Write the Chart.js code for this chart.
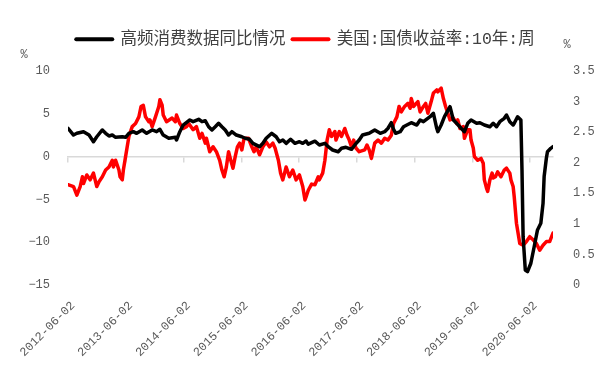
<!DOCTYPE html>
<html><head><meta charset="utf-8">
<script src="https://cdn.jsdelivr.net/npm/chart.js@4/dist/chart.umd.min.js"></script>
<style>html,body{margin:0;padding:0;background:#fff}</style>
</head><body>
<canvas id="c" width="611" height="383"></canvas>
<script>
// ---- data (x = weeks since 2012-06-02) ----
const seriesNames = ['高频消费数据同比情况', '美国:国债收益率:10年:周'];
const dateLabels = ['2012-06-02','2013-06-02','2014-06-02','2015-06-02','2016-06-02','2017-06-02','2018-06-02','2019-06-02','2020-06-02'];
const leftAxisRange = [-15, 10];
const rightAxisRange = [0, 3.5];

const blackWeeks = [0,5,8,14,19,23,26,31,34,37,40,43,49,52,55,59,62,67,71,76,80,83,86,91,97,98,101,104,106,110,113,118,121,124,127,130,133,136,139,142,145,148,152,157,160,164,167,173,176,179,184,188,191,194,197,201,205,209,212,215,217,223,227,232,235,239,244,247,251,256,259,263,266,272,277,282,286,289,292,294,296,300,303,306,310,315,318,321,327,330,333,334,337,340,345,348,351,355,358,361,364,369,372,376,381,384,387,390,394,396,399,402,403,406,409,410,411,413,415,418,421,424,427,429,430,432,433,436,438];
const blackValues = [3.31,2.52,2.72,2.91,2.52,1.74,2.32,3.11,2.72,2.41,2.52,2.25,2.32,2.25,2.72,2.91,2.72,3.11,2.72,3.11,2.91,3.19,2.52,2.14,2.25,1.94,2.91,3.69,3.89,4.28,4.08,4.36,4.08,4.19,3.49,3.11,3.49,3.89,3.49,3.11,2.52,2.91,2.52,2.32,2.14,2.02,1.55,1.16,1.55,2.14,2.72,2.32,1.74,1.94,1.55,2.02,1.55,1.74,1.55,1.82,1.45,1.8,1.36,1.55,1.16,0.77,0.57,0.97,1.09,0.85,1.36,1.94,2.52,2.72,3.11,2.72,2.91,3.31,3.96,3.2,2.72,2.91,3.49,3.69,3.96,3.69,4.28,4.08,4.66,5.06,3.31,2.91,3.69,4.66,5.83,4.28,3.89,3.31,2.91,3.89,4.28,3.89,3.96,3.69,3.49,3.89,3.49,4.08,4.47,4.86,4.08,3.69,3.89,4.66,4.28,-1.57,-9.36,-13.25,-13.45,-12.46,-10.53,-8.57,-7.79,-5.46,-2.32,-0.2,0.57,0.97,1.16];

const redWeeks = [0,5,8,11,13,14,17,20,23,26,28,31,34,37,40,41,43,46,47,49,50,52,55,58,61,64,66,68,70,73,74,76,79,82,83,85,86,89,94,97,98,101,104,107,109,113,116,119,121,124,125,128,131,134,137,139,141,143,145,147,149,151,153,155,157,159,163,166,168,170,173,176,179,182,185,187,190,192,194,197,200,203,206,209,212,214,215,217,220,223,226,227,230,232,234,236,238,241,242,245,247,250,252,254,256,258,260,263,268,270,272,274,277,280,283,286,289,292,294,297,299,301,304,307,309,310,312,316,318,321,323,325,328,330,333,334,337,339,341,343,345,348,351,352,354,357,358,361,363,364,366,367,370,373,375,376,378,379,381,383,384,386,388,391,394,396,399,400,402,403,405,406,408,411,414,417,420,423,426,429,432,435,438];
const redValues = [1.64,1.61,1.47,1.61,1.77,1.66,1.80,1.72,1.83,1.61,1.69,1.77,1.88,1.93,2.04,1.93,2.04,1.88,1.77,1.72,1.88,2.10,2.43,2.59,2.64,2.75,2.92,2.94,2.75,2.67,2.70,2.59,2.75,2.92,3.03,2.94,2.78,2.67,2.73,2.67,2.78,2.64,2.56,2.59,2.64,2.54,2.59,2.40,2.48,2.32,2.40,2.18,2.26,2.18,2.04,1.88,1.77,1.93,2.18,2.04,1.91,2.10,2.26,2.32,2.21,2.40,2.40,2.26,2.18,2.26,2.13,2.26,2.34,2.26,2.32,2.24,2.04,1.83,1.72,1.93,1.77,1.88,1.72,1.80,1.61,1.39,1.44,1.55,1.65,1.64,1.77,1.72,1.83,2.04,2.37,2.54,2.43,2.51,2.37,2.51,2.43,2.56,2.45,2.37,2.26,2.37,2.24,2.18,2.21,2.29,2.21,2.07,2.32,2.37,2.32,2.40,2.37,2.45,2.64,2.75,2.92,2.83,2.92,2.97,2.89,3.05,2.92,3.00,2.83,2.92,2.97,2.81,3.00,3.14,3.19,3.16,3.22,3.05,2.92,2.81,2.70,2.73,2.64,2.70,2.56,2.59,2.40,2.54,2.54,2.37,2.24,2.10,2.04,2.07,1.99,1.72,1.58,1.53,1.72,1.83,1.75,1.77,1.85,1.77,1.88,1.91,1.83,1.72,1.61,1.44,1.01,0.90,0.68,0.65,0.71,0.79,0.74,0.68,0.57,0.65,0.71,0.71,0.85];

const WEEKS_PER_YEAR = 52.18;
const X_MAX_WEEK = 438;
const yearTickWeeks = dateLabels.map((_, k) => k * WEEKS_PER_YEAR);

const NUM_FONT = "'Liberation Mono', 'DejaVu Sans Mono', monospace";
const LEGEND_FONT = "'Liberation Mono', 'Noto Sans CJK SC', sans-serif";
const TICK_COLOR = '#595959';

const legendSpacer = {
  id: 'legendSpacer',
  beforeLayout(chart) {
    const lg = chart.legend;
    if (lg && !lg._spaced) {
      const fit = lg.fit;
      lg.fit = function () { fit.call(this); this.height += 13.5; };
      lg._spaced = true;
    }
  }
};
const pctPlugin = {
  id: 'pct',
  afterDraw(chart) {
    const { ctx, chartArea: a } = chart;
    ctx.save();
    ctx.fillStyle = TICK_COLOR;
    ctx.font = '12px ' + NUM_FONT;
    ctx.textAlign = 'center';
    ctx.textBaseline = 'middle';
    ctx.fillText('%', a.left - 44, a.top - 16);
    ctx.fillText('%', a.right + 14, a.top - 26);
    ctx.restore();
  }
};

const mk = (ws, vs) => ws.map((w, i) => ({ x: w, y: vs[i] }));

new Chart(document.getElementById('c'), {
  type: 'line',
  data: {
    datasets: [
      { label: seriesNames[0], data: mk(blackWeeks, blackValues), xAxisID: 'x', yAxisID: 'yL',
        borderColor: '#000000', backgroundColor: '#000000', borderWidth: 3.5, pointRadius: 0,
        tension: 0, borderJoinStyle: 'round', borderCapStyle: 'round' },
      { label: seriesNames[1], data: mk(redWeeks, redValues), xAxisID: 'x', yAxisID: 'yR',
        borderColor: '#ff0000', backgroundColor: '#ff0000', borderWidth: 3.5, pointRadius: 0,
        tension: 0, borderJoinStyle: 'round', borderCapStyle: 'round' }
    ]
  },
  plugins: [legendSpacer, pctPlugin],
  options: {
    responsive: false, animation: false, devicePixelRatio: 1,
    layout: { padding: { left: 0, right: 0, top: 24, bottom: 0 } },
    plugins: {
      tooltip: { enabled: false },
      legend: {
        position: 'top', align: 'center',
        labels: {
          usePointStyle: true, pointStyle: 'line', pointStyleWidth: 36, padding: 7,
          color: '#404040', font: { family: LEGEND_FONT, size: 16.5 },
          generateLabels: (chart) => chart.data.datasets.map((ds, i) => ({
            text: ds.label, fillStyle: ds.borderColor, strokeStyle: ds.borderColor,
            lineWidth: 4, lineCap: 'round', pointStyle: 'line', hidden: false,
            datasetIndex: i, fontColor: '#404040'
          }))
        }
      }
    },
    scales: {
      x: {
        type: 'linear', min: 0, max: X_MAX_WEEK, position: { yL: 0 },
        afterBuildTicks: (s) => { s.ticks = yearTickWeeks.map(v => ({ value: v })); },
        ticks: { display: false },
        grid: { drawOnChartArea: false, drawTicks: true, tickLength: 5, color: '#d9d9d9', lineWidth: 1.5 },
        border: { display: true, color: '#d9d9d9', width: 1.5 }
      },
      xl: {
        type: 'linear', position: 'bottom', min: 0, max: X_MAX_WEEK,
        afterBuildTicks: (s) => { s.ticks = yearTickWeeks.map(v => ({ value: v })); },
        ticks: { autoSkip: false, minRotation: 45, maxRotation: 45, padding: 13.5, labelOffset: 5,
          color: TICK_COLOR, font: { family: NUM_FONT, size: 12 },
          callback: (v, i) => dateLabels[i] ?? '' },
        grid: { display: false, drawTicks: false },
        border: { display: false },
        afterFit: (s) => { s.height = 98; }
      },
      yL: {
        type: 'linear', position: 'left', min: leftAxisRange[0], max: leftAxisRange[1],
        ticks: { stepSize: 5, padding: 10, color: TICK_COLOR, font: { family: NUM_FONT, size: 12 },
          callback: (v) => v < 0 ? '\u2212' + Math.abs(v) : String(v) },
        grid: { display: false }, border: { display: false },
        afterFit: (s) => { s.width = 68; }
      },
      yR: {
        type: 'linear', position: 'right', min: rightAxisRange[0], max: rightAxisRange[1],
        ticks: { stepSize: 0.5, padding: 12, color: TICK_COLOR, font: { family: NUM_FONT, size: 12 },
          callback: (v) => String(v) },
        grid: { display: false }, border: { display: false },
        afterFit: (s) => { s.width = 58; }
      }
    }
  }
});
</script>
</body></html>
